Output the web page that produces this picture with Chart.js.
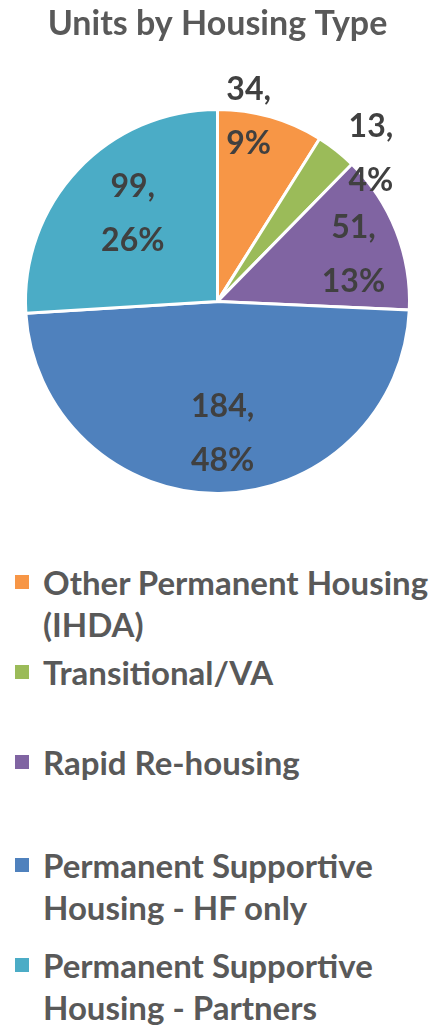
<!DOCTYPE html>
<html>
<head>
<meta charset="utf-8">
<script src="https://cdn.jsdelivr.net/npm/chart.js@4.4.1/dist/chart.umd.min.js"></script>
<style>
  body { margin: 0; background: #fff; width: 443px; height: 1026px; overflow: hidden; position: relative; font-family: Lato, "Open Sans", sans-serif; }
  #wrap { position: absolute; left: 0; top: 0; width: 443px; height: 510px; }
  #legend { position: absolute; left: 0; top: 0; width: 443px; }
  .item { position: absolute; left: 15px; color: #595959; font-weight: bold; font-size: 33px; line-height: 42px; }
  .item .box { position: absolute; left: 0; top: 14px; width: 14px; height: 14px; }
  .item .txt { margin-left: 28px; white-space: nowrap; }
</style>
</head>
<body>
<div id="wrap"><canvas id="pie"></canvas></div>
<div id="legend"></div>
<script>
// data
const categorias = [
  "Other Permanent Housing (IHDA)",
  "Transitional/VA",
  "Rapid Re-housing",
  "Permanent Supportive Housing - HF only",
  "Permanent Supportive Housing - Partners"
];
const unidades = [34, 13, 51, 184, 99];
const percentuais = ["9%", "4%", "13%", "48%", "26%"];
const linhasLegenda = [
  ["Other Permanent Housing", "(IHDA)"],
  ["Transitional/VA"],
  ["Rapid Re-housing"],
  ["Permanent Supportive", "Housing - HF only"],
  ["Permanent Supportive", "Housing - Partners"]
];

const cores = ["#F79646", "#9BBB59", "#8064A2", "#4F81BD", "#4BACC6"];
// label placement: [fracao do raio, dx, dy]
const posRotulos = [[1.0, -22, 0], [1.08, 25, 15], [0.75, 2, 6], [0.72, 4, -6], [0.62, 2, -6]];
const topoLegenda = [561, 651, 741, 844, 944];

const rotulosPlugin = {
  id: 'rotulos',
  afterDatasetsDraw(chart) {
    const ctx = chart.ctx;
    const meta = chart.getDatasetMeta(0);
    ctx.save();
    ctx.font = "bold 32px Lato";
    ctx.fillStyle = "#404040";
    ctx.textAlign = "center";
    ctx.textBaseline = "middle";
    meta.data.forEach((arc, i) => {
      const p = arc.getProps(['x', 'y', 'startAngle', 'endAngle', 'outerRadius'], true);
      const mid = (p.startAngle + p.endAngle) / 2;
      const [f, dx, dy] = posRotulos[i];
      const cx = p.x + Math.cos(mid) * p.outerRadius * f + dx;
      const cy = p.y + Math.sin(mid) * p.outerRadius * f + dy;
      ctx.fillText(unidades[i] + ",", cx, cy - 27);
      ctx.fillText(percentuais[i], cx, cy + 27);
    });
    ctx.restore();
  }
};

const ctx = document.getElementById('pie').getContext('2d');
new Chart(ctx, {
  type: 'pie',
  data: {
    labels: categorias,
    datasets: [{
      data: unidades,
      backgroundColor: cores,
      borderColor: '#ffffff',
      borderWidth: 3
    }]
  },
  options: {
    responsive: true,
    maintainAspectRatio: false,
    animation: false,
    layout: { padding: { left: 24, right: 32, top: 0, bottom: 12 } },
    plugins: {
      legend: { display: false },
      tooltip: { enabled: false },
      title: {
        display: true,
        text: 'Units by Housing Type',
        color: '#595959',
        font: { family: 'Lato', size: 34, weight: 'bold' },
        padding: { top: 4, bottom: 60 }
      }
    }
  },
  plugins: [rotulosPlugin]
});

// legenda
const legenda = document.getElementById('legend');
linhasLegenda.forEach((linhas, i) => {
  const item = document.createElement('div');
  item.className = 'item';
  item.style.top = topoLegenda[i] + 'px';
  item.innerHTML = `<span class="box" style="background:${cores[i]}"></span><div class="txt">${linhas.join('<br>')}</div>`;
  legenda.appendChild(item);
});
</script>
</body>
</html>
